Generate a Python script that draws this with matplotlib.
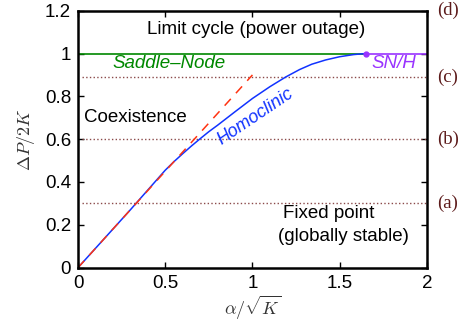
import matplotlib
matplotlib.use("Agg")
from matplotlib import pyplot as plt

plt.rcParams['font.family'] = ['Liberation Sans', 'DejaVu Sans']
plt.rcParams['mathtext.fontset'] = 'cm'

# homoclinic bifurcation curve
homo_x = [0.0, 0.3, 0.5, 0.55, 0.6, 0.65, 0.7, 0.75, 0.8, 0.9, 1.0, 1.1,
          1.19, 1.27, 1.34, 1.42, 1.5, 1.58, 1.65]
homo_y = [0.0, 0.27, 0.455, 0.495, 0.532, 0.568, 0.602, 0.635, 0.665, 0.728,
          0.79, 0.845, 0.89, 0.925, 0.95, 0.97, 0.985, 0.995, 1.0]

# linear approximation
lin_x = [0.0, 1.0]
lin_y = [0.0, 0.9]

sn_level = 1.0
snh_x = 1.65

# load levels used in panels (a)-(c)
levels = [0.3, 0.6, 0.89]
level_names = ['(a)', '(b)', '(c)']

fig = plt.figure(figsize=(4.59, 3.24), dpi=100)
ax = fig.add_axes([0.170, 0.174, 0.760, 0.793])

for lv in levels:
    ax.plot([0.02, 2], [lv, lv], ls=':', color='#8b4a4a', lw=1.0)

ax.plot([0, snh_x], [sn_level, sn_level], color='#008800', lw=1.2)
ax.plot([snh_x, 2], [sn_level, sn_level], color='#9933ff', lw=1.2)
ax.plot(homo_x, homo_y, color='#1133ff', lw=1.1)
ax.plot(lin_x, lin_y, color='#ff3311', ls=(0, (6, 5)), lw=1.1)
ax.plot([snh_x], [sn_level], 'o', color='#9933ff', ms=3.5)

ax.text(1.02, 1.11, 'Limit cycle (power outage)', ha='center', va='center', fontsize=13.5)
ax.text(0.52, 0.955, 'Saddle\u2013Node', ha='center', va='center', fontsize=13.5,
        style='italic', color='#008800')
ax.text(1.81, 0.953, 'SN/H', ha='center', va='center', fontsize=13.5,
        style='italic', color='#9933ff')
ax.text(0.33, 0.70, 'Coexistence', ha='center', va='center', fontsize=13.5)
ax.text(1.015, 0.705, 'Homoclinic', ha='center', va='center', fontsize=13,
        style='italic', color='#1133ff', rotation=34)
ax.text(1.435, 0.255, 'Fixed point', ha='center', va='center', fontsize=13.5)
ax.text(1.52, 0.145, '(globally stable)', ha='center', va='center', fontsize=13.5)

for lv, name in zip(levels + [1.2], level_names + ['(d)']):
    ax.text(2.058, lv, name, ha='left', va='center', fontsize=13.5,
            family='Liberation Serif', color='#5c1a1a')

ax.set_xlim(0, 2)
ax.set_ylim(0, 1.2)
ax.set_xticks([0, 0.5, 1, 1.5, 2])
ax.set_xticklabels(['0', '0.5', '1', '1.5', '2'])
ax.set_yticks([0, 0.2, 0.4, 0.6, 0.8, 1, 1.2])
ax.set_yticklabels(['0', '0.2', '0.4', '0.6', '0.8', '1', '1.2'])
ax.tick_params(direction='in', top=True, right=True, length=4, width=1,
               labelsize=13.5, pad=5)
for s in ax.spines.values():
    s.set_linewidth(1.8)

ax.set_xlabel(r'$\alpha/\sqrt{K}$', fontsize=13, color='#333333', labelpad=2)
ax.set_ylabel(r'$\Delta P/2K$', fontsize=13, color='#333333', labelpad=6)

fig.savefig('out.png', dpi=100)
